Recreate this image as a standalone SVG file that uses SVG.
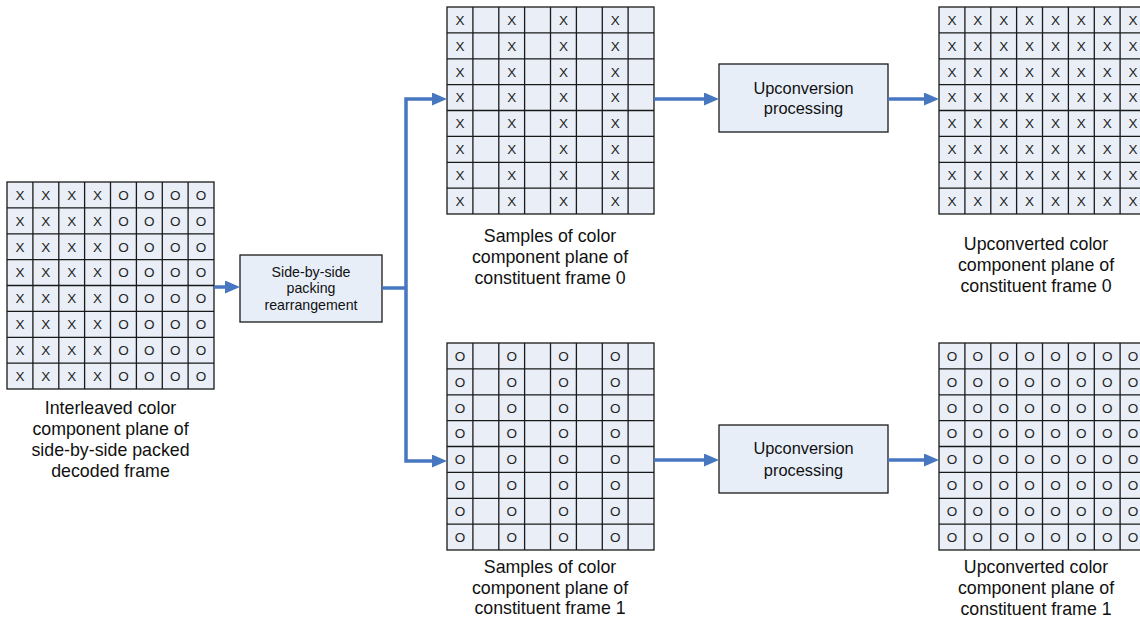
<svg xmlns="http://www.w3.org/2000/svg" width="1140" height="618" viewBox="0 0 1140 618">
<style>
.bg{fill:#E9EEF7;stroke:#1a1a1a;stroke-width:1.3}
.gl{fill:none;stroke:#1a1a1a;stroke-width:1.3}
.c{font-family:"Liberation Sans",Arial,sans-serif;font-size:13.5px;text-anchor:middle;fill:#222}
.lbl{font-family:"Liberation Sans",Arial,sans-serif;font-size:17.8px;text-anchor:middle;fill:#111}
.bt{font-family:"Liberation Sans",Arial,sans-serif;font-size:16.4px;text-anchor:middle;fill:#111}
.st{font-family:"Liberation Sans",Arial,sans-serif;font-size:14.2px;text-anchor:middle;fill:#111}
.box{fill:#E8EEF8;stroke:#1a1a1a;stroke-width:1.3}
.cn{fill:none;stroke:#4677C0;stroke-width:3.5}
.ar{marker-end:url(#ah)}
</style>
<defs>
<marker id="ah" viewBox="0 0 15 13" refX="0" refY="6.5" markerWidth="15" markerHeight="13" markerUnits="userSpaceOnUse" orient="auto">
<path d="M0 0L15 6.5L0 13z" fill="#4677C0"/>
</marker>
<path id="lines" d="M25.9 0V207M51.8 0V207M77.6 0V207M103.5 0V207M129.4 0V207M155.3 0V207M181.1 0V207M0 25.9H207M0 51.8H207M0 77.6H207M0 103.5H207M0 129.4H207M0 155.3H207M0 181.1H207"/>
</defs>

<g id="interleaved-grid" transform="translate(7,182)">
<rect class="bg" width="207" height="207"/>
<use href="#lines" class="gl"/>
<g transform="translate(0,17.7)"><text class="c" x="12.9">X</text><text class="c" x="38.8">X</text><text class="c" x="64.7">X</text><text class="c" x="90.6">X</text><text class="c" x="116.4">O</text><text class="c" x="142.3">O</text><text class="c" x="168.2">O</text><text class="c" x="194.1">O</text></g>
<g transform="translate(0,43.6)"><text class="c" x="12.9">X</text><text class="c" x="38.8">X</text><text class="c" x="64.7">X</text><text class="c" x="90.6">X</text><text class="c" x="116.4">O</text><text class="c" x="142.3">O</text><text class="c" x="168.2">O</text><text class="c" x="194.1">O</text></g>
<g transform="translate(0,69.5)"><text class="c" x="12.9">X</text><text class="c" x="38.8">X</text><text class="c" x="64.7">X</text><text class="c" x="90.6">X</text><text class="c" x="116.4">O</text><text class="c" x="142.3">O</text><text class="c" x="168.2">O</text><text class="c" x="194.1">O</text></g>
<g transform="translate(0,95.4)"><text class="c" x="12.9">X</text><text class="c" x="38.8">X</text><text class="c" x="64.7">X</text><text class="c" x="90.6">X</text><text class="c" x="116.4">O</text><text class="c" x="142.3">O</text><text class="c" x="168.2">O</text><text class="c" x="194.1">O</text></g>
<g transform="translate(0,121.2)"><text class="c" x="12.9">X</text><text class="c" x="38.8">X</text><text class="c" x="64.7">X</text><text class="c" x="90.6">X</text><text class="c" x="116.4">O</text><text class="c" x="142.3">O</text><text class="c" x="168.2">O</text><text class="c" x="194.1">O</text></g>
<g transform="translate(0,147.1)"><text class="c" x="12.9">X</text><text class="c" x="38.8">X</text><text class="c" x="64.7">X</text><text class="c" x="90.6">X</text><text class="c" x="116.4">O</text><text class="c" x="142.3">O</text><text class="c" x="168.2">O</text><text class="c" x="194.1">O</text></g>
<g transform="translate(0,173)"><text class="c" x="12.9">X</text><text class="c" x="38.8">X</text><text class="c" x="64.7">X</text><text class="c" x="90.6">X</text><text class="c" x="116.4">O</text><text class="c" x="142.3">O</text><text class="c" x="168.2">O</text><text class="c" x="194.1">O</text></g>
<g transform="translate(0,198.9)"><text class="c" x="12.9">X</text><text class="c" x="38.8">X</text><text class="c" x="64.7">X</text><text class="c" x="90.6">X</text><text class="c" x="116.4">O</text><text class="c" x="142.3">O</text><text class="c" x="168.2">O</text><text class="c" x="194.1">O</text></g>
</g>
<g id="interleaved-label">
<text class="lbl" x="110.5" y="414.4">Interleaved color</text>
<text class="lbl" x="110.5" y="435.4">component plane of</text>
<text class="lbl" x="110.5" y="456.4">side-by-side packed</text>
<text class="lbl" x="110.5" y="477.4">decoded frame</text>
</g>

<g id="rearrangement">
<rect class="box" x="240" y="255" width="142" height="67"/>
<text class="st" x="311" y="276.7">Side-by-side</text>
<text class="st" x="311" y="293.3">packing</text>
<text class="st" x="311" y="310">rearrangement</text>
</g>

<g id="frame0-samples" transform="translate(447,7)">
<rect class="bg" width="207" height="207"/>
<use href="#lines" class="gl"/>
<g transform="translate(0,17.7)"><text class="c" x="12.9">X</text><text class="c" x="64.7">X</text><text class="c" x="116.4">X</text><text class="c" x="168.2">X</text></g>
<g transform="translate(0,43.6)"><text class="c" x="12.9">X</text><text class="c" x="64.7">X</text><text class="c" x="116.4">X</text><text class="c" x="168.2">X</text></g>
<g transform="translate(0,69.5)"><text class="c" x="12.9">X</text><text class="c" x="64.7">X</text><text class="c" x="116.4">X</text><text class="c" x="168.2">X</text></g>
<g transform="translate(0,95.4)"><text class="c" x="12.9">X</text><text class="c" x="64.7">X</text><text class="c" x="116.4">X</text><text class="c" x="168.2">X</text></g>
<g transform="translate(0,121.2)"><text class="c" x="12.9">X</text><text class="c" x="64.7">X</text><text class="c" x="116.4">X</text><text class="c" x="168.2">X</text></g>
<g transform="translate(0,147.1)"><text class="c" x="12.9">X</text><text class="c" x="64.7">X</text><text class="c" x="116.4">X</text><text class="c" x="168.2">X</text></g>
<g transform="translate(0,173)"><text class="c" x="12.9">X</text><text class="c" x="64.7">X</text><text class="c" x="116.4">X</text><text class="c" x="168.2">X</text></g>
<g transform="translate(0,198.9)"><text class="c" x="12.9">X</text><text class="c" x="64.7">X</text><text class="c" x="116.4">X</text><text class="c" x="168.2">X</text></g>
</g>
<g id="frame0-samples-label">
<text class="lbl" x="550" y="242.4">Samples of color</text>
<text class="lbl" x="550" y="263.4">component plane of</text>
<text class="lbl" x="550" y="284.4">constituent frame 0</text>
</g>

<g id="frame1-samples" transform="translate(447,343)">
<rect class="bg" width="207" height="207"/>
<use href="#lines" class="gl"/>
<g transform="translate(0,17.7)"><text class="c" x="12.9">O</text><text class="c" x="64.7">O</text><text class="c" x="116.4">O</text><text class="c" x="168.2">O</text></g>
<g transform="translate(0,43.6)"><text class="c" x="12.9">O</text><text class="c" x="64.7">O</text><text class="c" x="116.4">O</text><text class="c" x="168.2">O</text></g>
<g transform="translate(0,69.5)"><text class="c" x="12.9">O</text><text class="c" x="64.7">O</text><text class="c" x="116.4">O</text><text class="c" x="168.2">O</text></g>
<g transform="translate(0,95.4)"><text class="c" x="12.9">O</text><text class="c" x="64.7">O</text><text class="c" x="116.4">O</text><text class="c" x="168.2">O</text></g>
<g transform="translate(0,121.2)"><text class="c" x="12.9">O</text><text class="c" x="64.7">O</text><text class="c" x="116.4">O</text><text class="c" x="168.2">O</text></g>
<g transform="translate(0,147.1)"><text class="c" x="12.9">O</text><text class="c" x="64.7">O</text><text class="c" x="116.4">O</text><text class="c" x="168.2">O</text></g>
<g transform="translate(0,173)"><text class="c" x="12.9">O</text><text class="c" x="64.7">O</text><text class="c" x="116.4">O</text><text class="c" x="168.2">O</text></g>
<g transform="translate(0,198.9)"><text class="c" x="12.9">O</text><text class="c" x="64.7">O</text><text class="c" x="116.4">O</text><text class="c" x="168.2">O</text></g>
</g>
<g id="frame1-samples-label">
<text class="lbl" x="550" y="572.7">Samples of color</text>
<text class="lbl" x="550" y="593.5">component plane of</text>
<text class="lbl" x="550" y="614.3">constituent frame 1</text>
</g>

<g id="upconv0">
<rect class="box" x="719" y="64" width="169" height="68"/>
<text class="bt" x="803.5" y="93.5">Upconversion</text>
<text class="bt" x="803.5" y="114">processing</text>
</g>
<g id="upconv1">
<rect class="box" x="719" y="425" width="169" height="68"/>
<text class="bt" x="803.5" y="454">Upconversion</text>
<text class="bt" x="803.5" y="475.8">processing</text>
</g>

<g id="frame0-upconverted" transform="translate(939,7)">
<rect class="bg" width="207" height="207"/>
<use href="#lines" class="gl"/>
<g transform="translate(0,17.7)"><text class="c" x="12.9">X</text><text class="c" x="38.8">X</text><text class="c" x="64.7">X</text><text class="c" x="90.6">X</text><text class="c" x="116.4">X</text><text class="c" x="142.3">X</text><text class="c" x="168.2">X</text><text class="c" x="194.1">X</text></g>
<g transform="translate(0,43.6)"><text class="c" x="12.9">X</text><text class="c" x="38.8">X</text><text class="c" x="64.7">X</text><text class="c" x="90.6">X</text><text class="c" x="116.4">X</text><text class="c" x="142.3">X</text><text class="c" x="168.2">X</text><text class="c" x="194.1">X</text></g>
<g transform="translate(0,69.5)"><text class="c" x="12.9">X</text><text class="c" x="38.8">X</text><text class="c" x="64.7">X</text><text class="c" x="90.6">X</text><text class="c" x="116.4">X</text><text class="c" x="142.3">X</text><text class="c" x="168.2">X</text><text class="c" x="194.1">X</text></g>
<g transform="translate(0,95.4)"><text class="c" x="12.9">X</text><text class="c" x="38.8">X</text><text class="c" x="64.7">X</text><text class="c" x="90.6">X</text><text class="c" x="116.4">X</text><text class="c" x="142.3">X</text><text class="c" x="168.2">X</text><text class="c" x="194.1">X</text></g>
<g transform="translate(0,121.2)"><text class="c" x="12.9">X</text><text class="c" x="38.8">X</text><text class="c" x="64.7">X</text><text class="c" x="90.6">X</text><text class="c" x="116.4">X</text><text class="c" x="142.3">X</text><text class="c" x="168.2">X</text><text class="c" x="194.1">X</text></g>
<g transform="translate(0,147.1)"><text class="c" x="12.9">X</text><text class="c" x="38.8">X</text><text class="c" x="64.7">X</text><text class="c" x="90.6">X</text><text class="c" x="116.4">X</text><text class="c" x="142.3">X</text><text class="c" x="168.2">X</text><text class="c" x="194.1">X</text></g>
<g transform="translate(0,173)"><text class="c" x="12.9">X</text><text class="c" x="38.8">X</text><text class="c" x="64.7">X</text><text class="c" x="90.6">X</text><text class="c" x="116.4">X</text><text class="c" x="142.3">X</text><text class="c" x="168.2">X</text><text class="c" x="194.1">X</text></g>
<g transform="translate(0,198.9)"><text class="c" x="12.9">X</text><text class="c" x="38.8">X</text><text class="c" x="64.7">X</text><text class="c" x="90.6">X</text><text class="c" x="116.4">X</text><text class="c" x="142.3">X</text><text class="c" x="168.2">X</text><text class="c" x="194.1">X</text></g>
</g>
<g id="frame0-upconverted-label">
<text class="lbl" x="1036" y="250.4">Upconverted color</text>
<text class="lbl" x="1036" y="271.4">component plane of</text>
<text class="lbl" x="1036" y="292.4">constituent frame 0</text>
</g>

<g id="frame1-upconverted" transform="translate(939,343)">
<rect class="bg" width="207" height="207"/>
<use href="#lines" class="gl"/>
<g transform="translate(0,17.7)"><text class="c" x="12.9">O</text><text class="c" x="38.8">O</text><text class="c" x="64.7">O</text><text class="c" x="90.6">O</text><text class="c" x="116.4">O</text><text class="c" x="142.3">O</text><text class="c" x="168.2">O</text><text class="c" x="194.1">O</text></g>
<g transform="translate(0,43.6)"><text class="c" x="12.9">O</text><text class="c" x="38.8">O</text><text class="c" x="64.7">O</text><text class="c" x="90.6">O</text><text class="c" x="116.4">O</text><text class="c" x="142.3">O</text><text class="c" x="168.2">O</text><text class="c" x="194.1">O</text></g>
<g transform="translate(0,69.5)"><text class="c" x="12.9">O</text><text class="c" x="38.8">O</text><text class="c" x="64.7">O</text><text class="c" x="90.6">O</text><text class="c" x="116.4">O</text><text class="c" x="142.3">O</text><text class="c" x="168.2">O</text><text class="c" x="194.1">O</text></g>
<g transform="translate(0,95.4)"><text class="c" x="12.9">O</text><text class="c" x="38.8">O</text><text class="c" x="64.7">O</text><text class="c" x="90.6">O</text><text class="c" x="116.4">O</text><text class="c" x="142.3">O</text><text class="c" x="168.2">O</text><text class="c" x="194.1">O</text></g>
<g transform="translate(0,121.2)"><text class="c" x="12.9">O</text><text class="c" x="38.8">O</text><text class="c" x="64.7">O</text><text class="c" x="90.6">O</text><text class="c" x="116.4">O</text><text class="c" x="142.3">O</text><text class="c" x="168.2">O</text><text class="c" x="194.1">O</text></g>
<g transform="translate(0,147.1)"><text class="c" x="12.9">O</text><text class="c" x="38.8">O</text><text class="c" x="64.7">O</text><text class="c" x="90.6">O</text><text class="c" x="116.4">O</text><text class="c" x="142.3">O</text><text class="c" x="168.2">O</text><text class="c" x="194.1">O</text></g>
<g transform="translate(0,173)"><text class="c" x="12.9">O</text><text class="c" x="38.8">O</text><text class="c" x="64.7">O</text><text class="c" x="90.6">O</text><text class="c" x="116.4">O</text><text class="c" x="142.3">O</text><text class="c" x="168.2">O</text><text class="c" x="194.1">O</text></g>
<g transform="translate(0,198.9)"><text class="c" x="12.9">O</text><text class="c" x="38.8">O</text><text class="c" x="64.7">O</text><text class="c" x="90.6">O</text><text class="c" x="116.4">O</text><text class="c" x="142.3">O</text><text class="c" x="168.2">O</text><text class="c" x="194.1">O</text></g>
</g>
<g id="frame1-upconverted-label">
<text class="lbl" x="1036" y="573.3">Upconverted color</text>
<text class="lbl" x="1036" y="594.3">component plane of</text>
<text class="lbl" x="1036" y="615">constituent frame 1</text>
</g>

<g id="connectors">
<path class="cn ar" d="M214 287H225"/>
<path class="cn" d="M382 288H406"/>
<path class="cn ar" d="M406 288V99H432"/>
<path class="cn ar" d="M406 288V461H432"/>
<path class="cn ar" d="M654 99H704"/>
<path class="cn ar" d="M888 99H924"/>
<path class="cn ar" d="M654 460H704"/>
<path class="cn ar" d="M888 460H924"/>
</g>
</svg>
